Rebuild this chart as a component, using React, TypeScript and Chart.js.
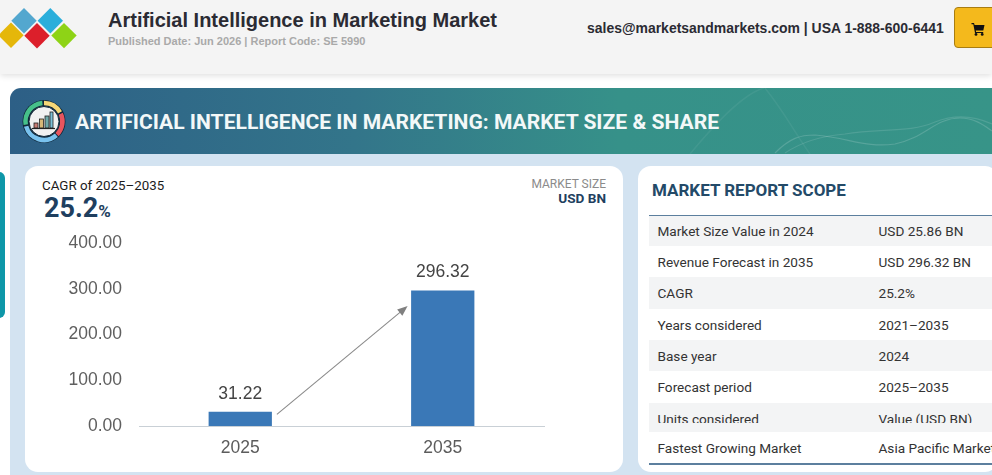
import React, { useEffect, useRef } from "react";
import { Chart, registerables } from "chart.js";

Chart.register(...registerables);

const categories = ["2025", "2035"];
const marketSize = [31.22, 296.32];
const scopeRows = [
  ["Market Size Value in 2024", "USD 25.86 BN"],
  ["Revenue Forecast in 2035", "USD 296.32 BN"],
  ["CAGR", "25.2%"],
  ["Years considered", "2021–2035"],
  ["Base year", "2024"],
  ["Forecast period", "2025–2035"],
  ["Units considered", "Value (USD BN)"],
  ["Fastest Growing Market", "Asia Pacific Market"],
];
const rowTops = [215, 246, 277, 309, 340, 371, 403, 432, 463];

const barOverlay = {
  id: "barOverlay",
  afterDatasetsDraw(chart: any) {
    const { ctx } = chart;
    const bars = chart.getDatasetMeta(0).data;
    ctx.save();
    ctx.font = "17.5px 'Liberation Sans'";
    ctx.fillStyle = "#444444";
    ctx.textAlign = "center";
    ctx.textBaseline = "middle";
    bars.forEach((b: any, i: number) => {
      ctx.fillText(marketSize[i].toFixed(2), b.x, b.y - 18);
    });
    const a = bars[0];
    const z = bars[1];
    const x0 = a.x + a.width / 2 + 5;
    const y0 = a.y + 2.6;
    const x1 = z.x - z.width / 2 - 3.5;
    const y1 = z.y + 15.6;
    const ang = Math.atan2(y1 - y0, x1 - x0);
    ctx.strokeStyle = "#8a8a8a";
    ctx.fillStyle = "#808080";
    ctx.lineWidth = 1.1;
    ctx.beginPath();
    ctx.moveTo(x0, y0);
    ctx.lineTo(x1 - 6 * Math.cos(ang), y1 - 6 * Math.sin(ang));
    ctx.stroke();
    ctx.beginPath();
    ctx.moveTo(x1, y1);
    ctx.lineTo(x1 - 11 * Math.cos(ang - 0.38), y1 - 11 * Math.sin(ang - 0.38));
    ctx.lineTo(x1 - 11 * Math.cos(ang + 0.38), y1 - 11 * Math.sin(ang + 0.38));
    ctx.closePath();
    ctx.fill();
    ctx.restore();
  },
};

const abs = (left: number, top: number, extra: React.CSSProperties = {}): React.CSSProperties => ({
  position: "absolute",
  left,
  top,
  whiteSpace: "nowrap",
  ...extra,
});

const ARIAL = "'Liberation Sans', Arial, sans-serif";
const ROBOTO = "Roboto, sans-serif";

function Logo() {
  const d = (cx: number, cy: number, fill: string) => {
    const r = 12.7;
    return <polygon key={cx + "-" + cy} points={`${cx},${cy - r} ${cx + r},${cy} ${cx},${cy + r} ${cx - r},${cy}`} fill={fill} />;
  };
  return (
    <svg width={90} height={60} style={abs(0, 0)}>
      {d(24, 20.8, "#53a7cf")}
      {d(50.3, 20.8, "#2aaedb")}
      {d(11, 35.3, "#e5b70a")}
      {d(37, 35.8, "#dc1f2b")}
      {d(64, 35.6, "#8ed316")}
    </svg>
  );
}

function RingIcon() {
  const arc = (r: number, a0: number, a1: number) => {
    const p = (a: number) => `${44 + r * Math.cos((a * Math.PI) / 180)},${121.5 + r * Math.sin((a * Math.PI) / 180)}`;
    return `M${p(a0)} A${r},${r} 0 ${a1 - a0 > 180 ? 1 : 0} 1 ${p(a1)}`;
  };
  return (
    <svg width={100} height={170} style={abs(0, 0)}>
      <circle cx={44} cy={121.5} r={21.5} fill="#10283a" />
      <path d={arc(18.5, 48, 165)} stroke="#79c2ee" strokeWidth={4.5} fill="none" />
      <path d={arc(18.5, 170, 265)} stroke="#46c08a" strokeWidth={4.5} fill="none" />
      <path d={arc(18.5, 270, 330)} stroke="#f6d777" strokeWidth={4.5} fill="none" />
      <path d={arc(18.5, 335, 405)} stroke="#e8555e" strokeWidth={4.5} fill="none" />
      <circle cx={44} cy={121.5} r={15} fill="#f1f1f1" stroke="#10283a" strokeWidth={1} />
      <rect x={34} y={123} width={4} height={5} fill="#c77c74" stroke="#222" strokeWidth={0.8} />
      <rect x={39.5} y={119} width={4} height={9} fill="#d6b777" stroke="#222" strokeWidth={0.8} />
      <rect x={45} y={116} width={4} height={12} fill="#6fa8a8" stroke="#222" strokeWidth={0.8} />
      <rect x={50} y={112} width={3} height={16} fill="#7dc0d8" stroke="#222" strokeWidth={0.8} />
      <line x1={32} x2={55} y1={128.5} y2={128.5} stroke="#222" strokeWidth={1.2} />
    </svg>
  );
}

function BannerArt() {
  return (
    <svg width={992} height={66} style={abs(0, 88)} fill="none">
      <path d="M690 66 C720 30 745 5 764 0 M765 0 C785 25 795 45 810 66" stroke="#ffffff" strokeOpacity={0.06} strokeWidth={1.5} />
      <path d="M775 65 C790 50 800 47 815 47 C850 50 865 60 895 56 C925 50 935 30 960 30 C975 30 985 38 992 43" stroke="#ffffff" strokeOpacity={0.16} strokeWidth={1.2} />
      <path d="M785 65 C800 55 820 48 845 46 C880 40 910 45 935 34 C950 28 970 26 992 36" stroke="#ffffff" strokeOpacity={0.12} strokeWidth={1.2} />
    </svg>
  );
}

export default function App() {
  const ref = useRef<HTMLCanvasElement>(null);
  useEffect(() => {
    if (!ref.current) return;
    const chart = new Chart(ref.current, {
      type: "bar",
      data: {
        labels: categories,
        datasets: [
          {
            data: marketSize,
            backgroundColor: "#3a78b7",
            barPercentage: 0.3125,
            categoryPercentage: 1,
          },
        ],
      },
      options: {
        animation: false,
        responsive: false,
        devicePixelRatio: 1,
        layout: { padding: { top: 18, right: 79, left: 0, bottom: 0 } },
        plugins: { legend: { display: false }, tooltip: { enabled: false } },
        scales: {
          x: {
            grid: { display: false, drawTicks: false },
            border: { color: "#c9d0d6", width: 1 },
            ticks: { color: "#5c5c5c", font: { size: 17.5, family: "'Liberation Sans'" }, padding: 12, maxRotation: 0 },
            afterFit: (s: any) => {
              s.height = 44;
              s.paddingLeft = 0;
              s.paddingRight = 0;
            },
          },
          y: {
            min: 0,
            max: 400,
            grid: { display: false, drawTicks: false },
            border: { display: false },
            ticks: {
              stepSize: 100,
              color: "#5f5f5f",
              font: { size: 17.5, family: "'Liberation Sans'" },
              padding: 17,
              callback: (v: any) => Number(v).toFixed(2),
            },
            afterFit: (s: any) => {
              s.width = 114;
              s.paddingTop = 0;
              s.paddingBottom = 0;
            },
          },
        },
      },
      plugins: [barOverlay],
    });
    return () => chart.destroy();
  }, []);

  return (
    <div style={{ position: "fixed", left: 0, top: 0, width: 992, height: 475, overflow: "hidden", background: "#ffffff" }}>
      {/* top bar */}
      <div style={abs(0, 0, { width: 992, height: 74, background: "#f4f4f4", boxShadow: "0 2px 6px rgba(0,0,0,0.12)" })} />
      <Logo />
      <div style={abs(108, 9, { fontFamily: ARIAL, fontWeight: 700, fontSize: 20, lineHeight: "22px", color: "#2b2b33" })}>
        Artificial Intelligence in Marketing Market
      </div>
      <div style={abs(108, 35, { fontFamily: ARIAL, fontWeight: 700, fontSize: 11, lineHeight: "13px", color: "#a9a9a9" })}>
        Published Date: Jun 2026 | Report Code: SE 5990
      </div>
      <div style={abs(587, 20, { fontFamily: ARIAL, fontWeight: 700, fontSize: 13.96, lineHeight: "16px", color: "#2b2b33" })}>
        sales@marketsandmarkets.com | USA 1-888-600-6441
      </div>
      <div style={abs(954, 7, { width: 60, height: 41, boxSizing: "border-box", background: "#f4b91c", border: "1px solid #a87d12", borderRadius: 4 })} />
      <svg width={14} height={14} style={abs(971, 22)} viewBox="0 0 14 14">
        <path d="M0.5 1 H3 L3.6 3 H13.5 L12.3 8.5 H4.8 L5.1 10 H12.2 V11 H4 L2.3 2.2 H0.5 Z" fill="#111" />
        <circle cx={5} cy={12.4} r={1.4} fill="#111" />
        <circle cx={11.2} cy={12.4} r={1.4} fill="#111" />
      </svg>

      {/* panel */}
      <div style={abs(10, 154, { width: 982, height: 321, background: "#d3e3f1" })} />
      <div style={abs(10, 88, { width: 982, height: 66, borderTopLeftRadius: 11, background: "linear-gradient(90deg,#2d5f86 0%,#33758a 35%,#369189 62%,#379488 100%)" })} />
      <BannerArt />
      <RingIcon />
      <div style={abs(75, 109, { fontFamily: ROBOTO, fontWeight: 700, fontSize: 21.07, lineHeight: "26px", color: "#f3f8f8" })}>
        ARTIFICIAL INTELLIGENCE IN MARKETING: MARKET SIZE &amp; SHARE
      </div>
      <div style={abs(-8, 172, { width: 13, height: 146, background: "#0e97a8", borderRadius: 6 })} />

      {/* chart card */}
      <div style={abs(25, 166, { width: 598, height: 306, background: "#ffffff", borderRadius: 13 })} />
      <div style={abs(42, 177, { fontFamily: ROBOTO, fontSize: 13.35, lineHeight: "17px", color: "#1c1c1c" })}>CAGR of 2025–2035</div>
      <div style={abs(44, 193, { fontFamily: ROBOTO, fontWeight: 700, fontSize: 27, lineHeight: "31px", color: "#1f3f5f" })}>
        25.2<span style={{ fontSize: 17 }}>%</span>
      </div>
      <div style={abs(476, 177, { width: 130, textAlign: "right", fontFamily: ROBOTO, fontSize: 12, lineHeight: "15px", color: "#8b8b8b" })}>MARKET SIZE</div>
      <div style={abs(476, 190, { width: 130, textAlign: "right", fontFamily: ROBOTO, fontWeight: 700, fontSize: 13.6, lineHeight: "16px", color: "#1f3f5f" })}>USD BN</div>
      <canvas ref={ref} width={598} height={245} style={abs(25, 225, { display: "block" })} />

      {/* scope card */}
      <div style={abs(638, 166, { width: 360, height: 306, background: "#ffffff", borderRadius: 13 })} />
      <div style={abs(652, 180, { fontFamily: ROBOTO, fontWeight: 700, fontSize: 17, lineHeight: "21px", color: "#234a68" })}>MARKET REPORT SCOPE</div>
      {scopeRows.map((row, i) => {
        const top = rowTops[i];
        const h = rowTops[i + 1] - top;
        return (
          <div key={row[0]} style={abs(649, top, { width: 343, height: h, overflow: "hidden", background: i % 2 === 0 ? "#f3f4f5" : "#ffffff" })}>
            <div style={{ position: "absolute", left: 0, top: 0, width: 343, height: i === 6 ? 20 : h, overflow: "hidden", fontFamily: ROBOTO, fontSize: 13.6, lineHeight: "32px", color: "#333333" }}>
              <span style={{ position: "absolute", left: 8.5, whiteSpace: "nowrap" }}>{row[0]}</span>
              <span style={{ position: "absolute", left: 229.5, whiteSpace: "nowrap" }}>{row[1]}</span>
            </div>
          </div>
        );
      })}
      <div style={abs(649, 214.5, { width: 343, height: 1.5, background: "#5c7f9e" })} />
      <div style={abs(649, 463, { width: 343, height: 1.5, background: "#5c7f9e" })} />
    </div>
  );
}
